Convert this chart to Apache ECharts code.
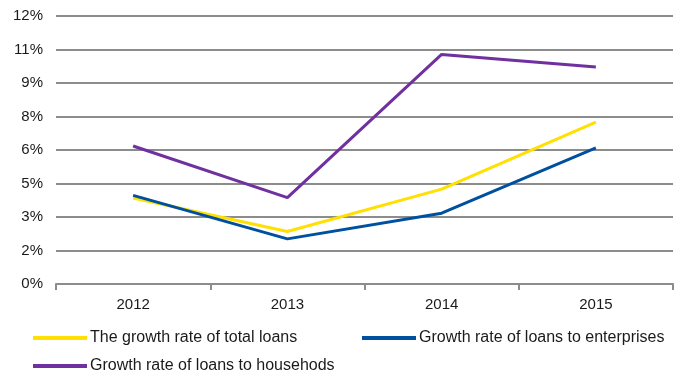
<!DOCTYPE html>
<html>
<head>
<meta charset="utf-8">
<script src="https://cdn.jsdelivr.net/npm/echarts@6/dist/echarts.min.js"></script>
<style>
  html, body { margin: 0; padding: 0; background: #fff; }
  #chart { width: 674px; height: 374px; }
</style>
</head>
<body>
<div id="chart"></div>
<script>
// Years on the category axis
const years = ['2012', '2013', '2014', '2015'];

// Annual growth rates, in percent
const totalLoans = [3.85, 2.35, 4.25, 7.25];
const enterpriseLoans = [3.97, 2.02, 3.17, 6.1];
const householdLoans = [6.18, 3.87, 10.28, 9.72];

// Series names shown in the legend
const seriesNames = [
  'The growth rate of total loans',
  'Growth rate of loans to enterprises',
  'Growth rate of loans to househods'
];

const colors = ['#FFE000', '#0050A0', '#7030A0'];
const font = 'Liberation Sans, Arial, sans-serif';

const chart = echarts.init(document.getElementById('chart'), null, { renderer: 'canvas' });

// One legend block per entry so each sits at its own spot
function legendAt(name, left, top) {
  return {
    left: left,
    top: top,
    data: [name],
    itemWidth: 54,
    itemHeight: 4,
    icon: 'rect',
    padding: 0,
    textStyle: { fontFamily: font, fontSize: 16, color: '#1a1a1a', padding: [0, 0, 0, -2] }
  };
}

chart.setOption({
  animation: false,
  color: colors,
  grid: { left: 56, right: 1, top: 16, bottom: 90, containLabel: false },
  legend: [
    legendAt(seriesNames[0], 33, 330),
    legendAt(seriesNames[1], 362, 330),
    legendAt(seriesNames[2], 33, 358)
  ],
  xAxis: {
    type: 'category',
    data: years,
    boundaryGap: true,
    axisLine: { lineStyle: { color: '#8c8c8c', width: 2 } },
    axisTick: { show: true, length: 6, lineStyle: { color: '#8c8c8c', width: 2 } },
    axisLabel: { fontFamily: font, fontSize: 15, color: '#1a1a1a', margin: 13 }
  },
  yAxis: {
    type: 'value',
    min: 0,
    max: 12,
    interval: 1.5,
    axisLine: { show: false },
    axisTick: { show: false },
    splitLine: { lineStyle: { color: '#8c8c8c', width: 2 } },
    axisLabel: {
      fontFamily: font,
      fontSize: 15,
      color: '#1a1a1a',
      margin: 13,
      formatter: v => Math.round(v) + '%'
    }
  },
  series: [
    { name: seriesNames[0], type: 'line', data: totalLoans, symbol: 'none', lineStyle: { width: 3 }, z: 3 },
    { name: seriesNames[1], type: 'line', data: enterpriseLoans, symbol: 'none', lineStyle: { width: 3 }, z: 4 },
    { name: seriesNames[2], type: 'line', data: householdLoans, symbol: 'none', lineStyle: { width: 3 }, z: 5 }
  ]
});
</script>
</body>
</html>
